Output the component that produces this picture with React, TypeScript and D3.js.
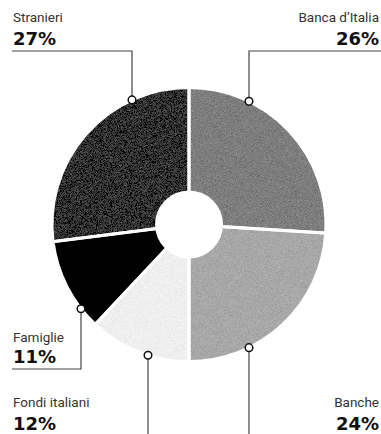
import React from "react";
import * as d3 from "d3";

const names = ["Banca d’Italia", "Banche", "Fondi italiani", "Famiglie", "Stranieri"];
const values = [26, 24, 12, 11, 27];
const colors = ["#7e7e7e", "#a8a8a8", "#efefef", "#000000", "#333333"];
const grainy = [true, true, true, false, true];

// layout of callouts (label anchor side, line x, text baselines)
const callouts = [
  { side: "right", lineX: 249, nameY: 22, pctY: 45, hLineY: 51, dir: "up" },
  { side: "right", lineX: 249, nameY: 407, pctY: 430, hLineY: null, dir: "down" },
  { side: "left", lineX: 148, nameY: 407, pctY: 430, hLineY: null, dir: "down" },
  { side: "left", lineX: 81, nameY: 342, pctY: 363, hLineY: 369, dir: "downH" },
  { side: "left", lineX: 132, nameY: 22, pctY: 45, hLineY: 51, dir: "up" },
];

const W = 381;
const H = 434;
const cx = 189;
const cy = 224.5;
const R = 137;
const r0 = 34;

export default function App() {
  const pie = d3.pie<number>().sort(null).value((d) => d)(values);
  const arc = d3.arc<d3.PieArcDatum<number>>().innerRadius(0).outerRadius(R);

  return (
    <svg width={W} height={H} style={{ position: "absolute", left: 0, top: 0 }}>
      <defs>
        <filter id="grain" x="0" y="0" width="100%" height="100%">
          <feTurbulence type="fractalNoise" baseFrequency="2.2" numOctaves="1" seed="5" result="noise" />
          <feColorMatrix
            in="noise"
            type="matrix"
            values="0.33 0.33 0.33 0 0  0.33 0.33 0.33 0 0  0.33 0.33 0.33 0 0  0 0 0 0 1"
            result="gray"
          />
          <feComposite in="SourceGraphic" in2="gray" operator="arithmetic" k1="0" k2="1" k3="0.5" k4="-0.25" result="mix" />
          <feComposite in="mix" in2="SourceGraphic" operator="in" />
        </filter>
      </defs>
      <rect width={W} height={H} fill="#fff" />
      <g transform={`translate(${cx},${cy})`}>
        {pie.map((p, i) => (
          <path
            key={i}
            d={arc(p) || ""}
            fill={colors[i]}
            filter={grainy[i] ? "url(#grain)" : undefined}
          />
        ))}
        {pie.map((p, i) => (
          <path key={"s" + i} d={arc(p) || ""} fill="none" stroke="#fff" strokeWidth={3} />
        ))}
        <circle r={r0} fill="#fff" />
      </g>
      {callouts.map((c, i) => {
        const dx = c.lineX - cx;
        const off = Math.sqrt(R * R - dx * dx);
        const ay = c.dir === "up" ? cy - off : cy + off;
        const tx = c.side === "left" ? 13 : 379;
        const anchor = c.side === "left" ? "start" : "end";
        let linePath = "";
        if (c.dir === "up") {
          const hx = c.side === "left" ? 12 : W;
          linePath = `M${hx},${c.hLineY}H${c.lineX}V${ay}`;
        } else if (c.dir === "downH") {
          linePath = `M12,${c.hLineY}H${c.lineX}V${ay}`;
        } else {
          linePath = `M${c.lineX},${H}V${ay}`;
        }
        return (
          <g key={"c" + i}>
            <path d={linePath} fill="none" stroke="#444" strokeWidth={1.2} />
            <circle cx={c.lineX} cy={ay} r={3.8} fill="#fff" stroke="#111" strokeWidth={1.5} />
            <text
              x={tx}
              y={c.nameY}
              textAnchor={anchor}
              fontFamily="Roboto, sans-serif"
              fontSize={13.5}
              fill="#333"
            >
              {names[i]}
            </text>
            <text
              x={tx}
              y={c.pctY}
              textAnchor={anchor}
              fontFamily="'DejaVu Sans', sans-serif"
              fontWeight={700}
              fontSize={18}
              fill="#111"
            >
              {values[i]}%
            </text>
          </g>
        );
      })}
    </svg>
  );
}
